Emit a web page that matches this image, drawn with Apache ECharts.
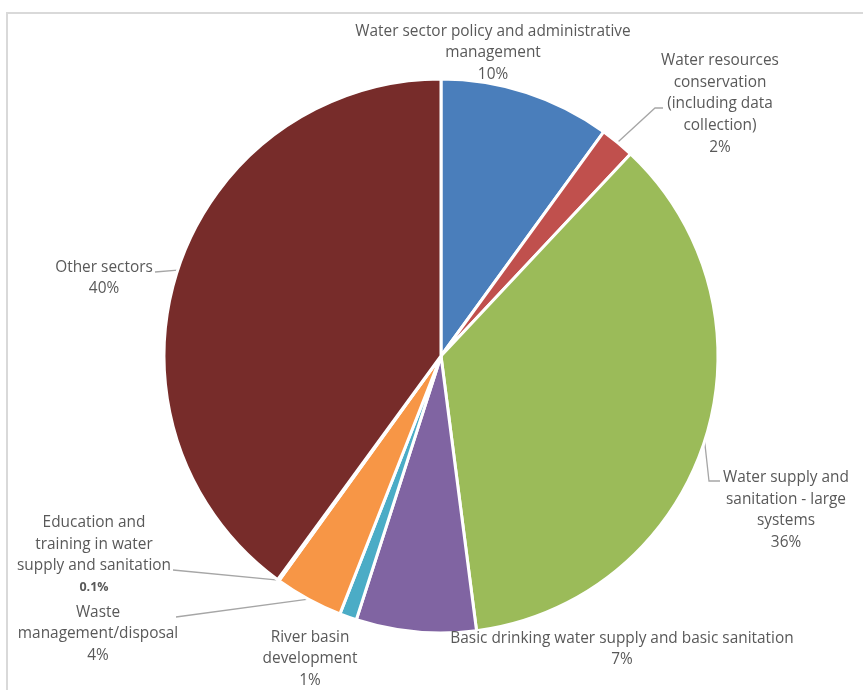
<!DOCTYPE html>
<html lang="en">
<head>
<meta charset="UTF-8">
<title>Water sector shares</title>
<script src="https://cdn.jsdelivr.net/npm/echarts@6/dist/echarts.min.js"></script>
<style>
    html, body { margin: 0; padding: 0; background: #FFFFFF; }
    #main { width: 863px; height: 690px; }
</style>
</head>
<body>
<div id="main"></div>
<script>
    // data (percent of total)
    var sectors = [
        'Water sector policy and administrative\nmanagement',
        'Water resources\nconservation\n(including data\ncollection)',
        'Water supply and\nsanitation - large\nsystems',
        'Basic drinking water supply and basic sanitation',
        'River basin\ndevelopment',
        'Waste\nmanagement/disposal',
        'Education and\ntraining in water\nsupply and sanitation',
        'Other sectors'
    ];
    var shares = [10, 2, 36, 7, 1, 4, 0.1, 40];
    var colors = ['#4A7EBB', '#C0504D', '#9BBB59', '#8064A2', '#4BACC6', '#F79646', '#7F7F7F', '#772C2A'];

    // where each label block sits (centre), and the leader line bends/ends
    var labelAt = [[493, 53], [720, 104], [786, 510], [622, 649], [310, 659], [98, 634], [94, 555], [104, 278]];
    var leader = {
        1: [[655, 108], [663, 108]],
        2: [[709, 481], [720, 481]],
        5: [[176, 617]],
        6: [[173, 570]],
        7: [[155, 272]]
    };

    var myChart = echarts.init(document.getElementById('main'));

    var data = shares.map(function (v, i) {
        return {
            value: v,
            name: sectors[i],
            itemStyle: { color: colors[i] },
            labelLine: { show: !!leader[i] }
        };
    });

    var option = {
        backgroundColor: '#FFFFFF',
        animation: false,
        graphic: [{
            type: 'rect',
            z: -1,
            shape: { x: 7, y: 13, width: 900, height: 720 },
            style: { fill: 'none', stroke: '#D9D9D9', lineWidth: 2 }
        }],
        series: [{
            type: 'pie',
            center: [441, 356],
            radius: 277,
            startAngle: 90,
            clockwise: true,
            avoidLabelOverlap: false,
            itemStyle: { borderColor: '#FFFFFF', borderWidth: 3 },
            emphasis: { disabled: true },
            label: {
                show: true,
                position: 'outside',
                overflow: 'none',
                color: '#595959',
                fontFamily: 'Open Sans',
                fontSize: 15.4,
                lineHeight: 21.6,
                align: 'center',
                formatter: function (p) {
                    var pct = p.value + '%';
                    if (p.value < 1) pct = '{b|' + pct + '}';
                    return p.name + '\n' + pct;
                },
                rich: {
                    b: { fontWeight: 'bold', fontSize: 12.5, color: '#595959', fontFamily: 'Open Sans', lineHeight: 21.6 }
                }
            },
            labelLine: {
                lineStyle: { color: '#A6A6A6', width: 1.3 }
            },
            labelLayout: function (params) {
                var i = params.dataIndex;
                var out = {
                    x: labelAt[i][0],
                    y: labelAt[i][1],
                    align: 'center',
                    verticalAlign: 'middle'
                };
                if (leader[i] && params.labelLinePoints) {
                    out.labelLinePoints = [params.labelLinePoints[0]].concat(leader[i]);
                }
                return out;
            },
            data: data
        }]
    };

    myChart.setOption(option);
</script>
</body>
</html>
